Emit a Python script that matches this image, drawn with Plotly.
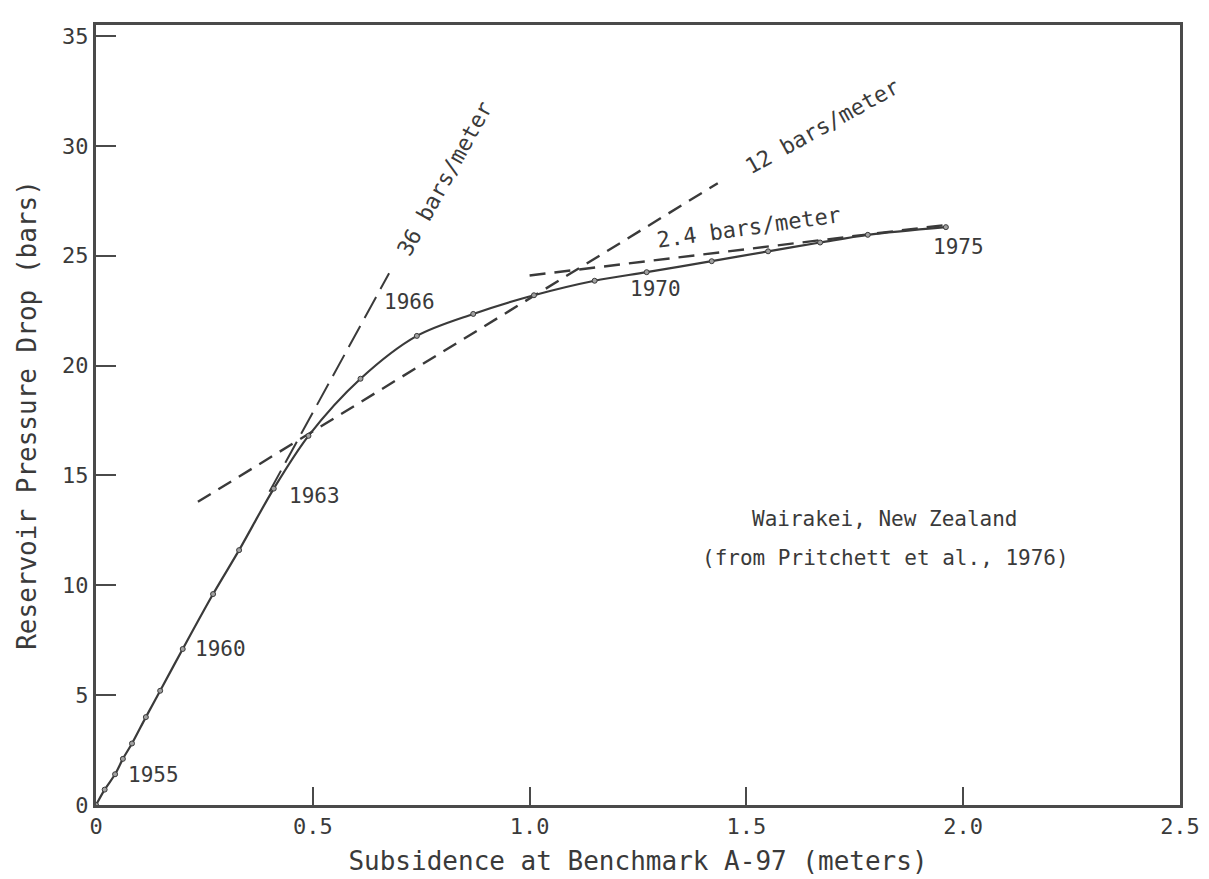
import plotly.graph_objects as go

# Observed data (Wairakei, yearly points 1953-1975)
subsidence = [0.0, 0.02, 0.044, 0.062, 0.083, 0.115, 0.148, 0.20, 0.27, 0.33, 0.41,
              0.49, 0.61, 0.74, 0.87, 1.01, 1.15, 1.27, 1.42, 1.55, 1.67, 1.78, 1.96]
pressure_drop = [0.0, 0.7, 1.4, 2.1, 2.8, 4.0, 5.2, 7.1, 9.6, 11.6, 14.4,
                 16.8, 19.4, 21.35, 22.35, 23.2, 23.86, 24.25, 24.75, 25.2, 25.6, 25.95, 26.3]

# Year labels
year_labels = ["1955", "1960", "1963", "1966", "1970", "1975"]
year_x = [0.069, 0.224, 0.503, 0.722, 1.29, 1.988]
year_y = [1.38, 7.1, 14.07, 22.9, 23.5, 25.4]
year_anchor = ["left", "left", "center", "center", "center", "center"]

# Slope lines (bars/meter)
slope_36_x = [0.40, 0.676]
slope_36_y = [14.26, 24.2]
slope_12_x = [0.235, 1.434]
slope_12_y = [13.8, 28.3]
slope_24_x = [1.0, 1.96]
slope_24_y = [24.1, 26.4]

slope_labels = ["36 bars/meter", "12 bars/meter", "2.4 bars/meter"]
slope_label_x = [0.805, 1.675, 1.505]
slope_label_y = [28.5, 30.9, 26.3]
slope_label_angle = [-61, -29, -8]

x_ticks = [0, 0.5, 1.0, 1.5, 2.0, 2.5]
x_ticktext = ["0", "0.5", "1.0", "1.5", "2.0", "2.5"]
y_ticks = [0, 5, 10, 15, 20, 25, 30, 35]

FONT = "DejaVu Sans Mono"
INK = "#3a3a3a"
FRAME = "#4a4a4a"

fig = go.Figure()

fig.add_trace(go.Scatter(x=slope_36_x, y=slope_36_y, mode="lines",
                         line=dict(color=INK, width=2, dash="24px,9px"),
                         showlegend=False, hoverinfo="skip"))
fig.add_trace(go.Scatter(x=slope_12_x, y=slope_12_y, mode="lines",
                         line=dict(color=INK, width=2.4, dash="15px,9px"),
                         showlegend=False, hoverinfo="skip"))
fig.add_trace(go.Scatter(x=slope_24_x, y=slope_24_y, mode="lines",
                         line=dict(color=INK, width=2.4, dash="16px,9px"),
                         showlegend=False, hoverinfo="skip"))
fig.add_trace(go.Scatter(x=subsidence, y=pressure_drop, mode="lines+markers",
                         line=dict(color=INK, width=2.2, shape="spline", smoothing=0.9),
                         marker=dict(size=5, color="#a0a0a0", line=dict(color=INK, width=1)),
                         showlegend=False))

for t, x, y, a in zip(year_labels, year_x, year_y, year_anchor):
    fig.add_annotation(x=x, y=y, text=t, showarrow=False, xanchor=a, yanchor="middle",
                       font=dict(family=FONT, size=21, color=INK))

for t, x, y, ang in zip(slope_labels, slope_label_x, slope_label_y, slope_label_angle):
    fig.add_annotation(x=x, y=y, text=t, showarrow=False, textangle=ang,
                       font=dict(family=FONT, size=22, color=INK))

fig.add_annotation(x=1.82, y=13.0, text="Wairakei, New Zealand", showarrow=False,
                   font=dict(family=FONT, size=21, color=INK))
fig.add_annotation(x=1.82, y=11.26, text="(from Pritchett et al., 1976)", showarrow=False,
                   font=dict(family=FONT, size=21, color=INK))

fig.update_layout(
    width=1209, height=879,
    margin=dict(l=88, r=37, t=17, b=82),
    paper_bgcolor="white", plot_bgcolor="white",
    font=dict(family=FONT, size=22, color=INK),
)
fig.update_xaxes(range=[0, 2.5], tickvals=x_ticks, ticktext=x_ticktext,
                 ticks="inside", ticklen=18, tickwidth=2, tickcolor=FRAME,
                 showline=True, linewidth=3, linecolor=FRAME, mirror=True,
                 showgrid=False, zeroline=False,
                 title=dict(text="Subsidence at Benchmark A-97 (meters)", standoff=14),
                 tickfont=dict(size=22))
fig.update_yaxes(range=[0, 35.5], tickvals=y_ticks,
                 ticks="inside", ticklen=20, tickwidth=2, tickcolor=FRAME,
                 showline=True, linewidth=3, linecolor=FRAME, mirror=True,
                 showgrid=False, zeroline=False,
                 title=dict(text="Reservoir Pressure Drop (bars)", standoff=18),
                 tickfont=dict(size=22))

fig.write_html("out.html")
